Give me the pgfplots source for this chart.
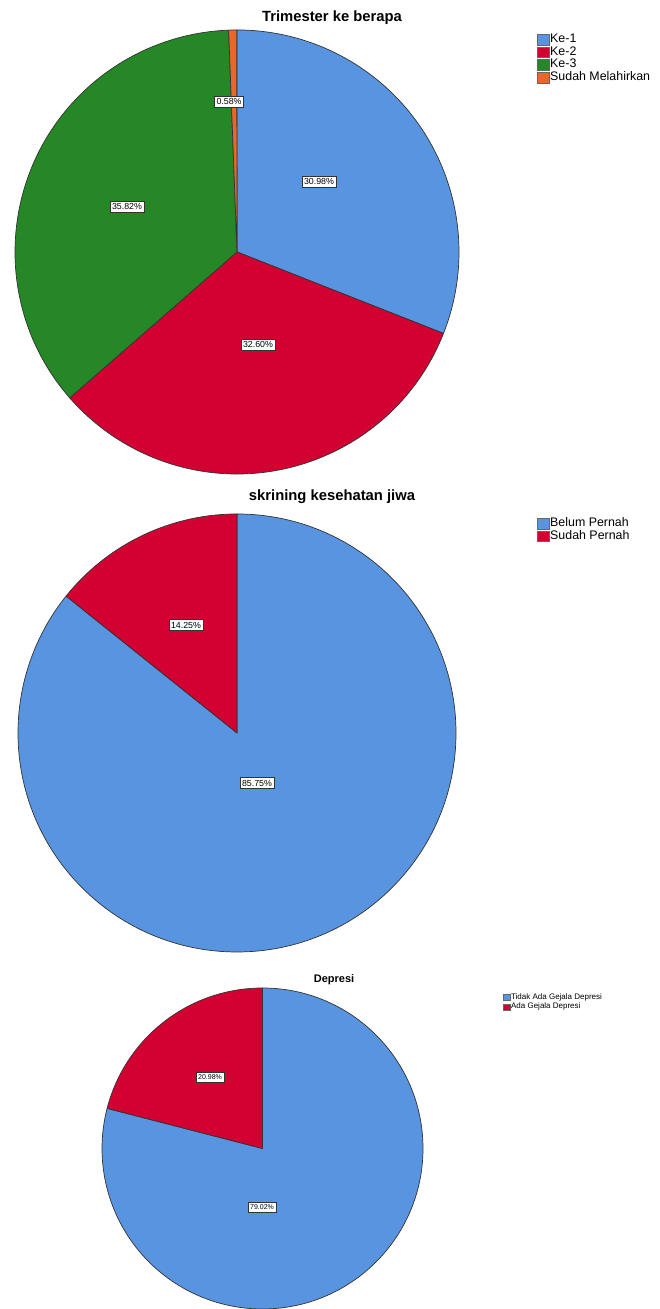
\documentclass[border=0pt]{standalone}
\usepackage{pgfplots}
\pgfplotsset{compat=1.18}
\usepackage{pgfplotstable}
\usepackage{fontspec}
\setmainfont{Liberation Sans}
\definecolor{spblue}{RGB}{88,148,224}
\definecolor{spred}{RGB}{211,0,50}
\definecolor{spgreen}{RGB}{38,135,38}
\definecolor{sporange}{RGB}{232,104,44}

% pct = percentage, col = slice colour, lx/ly = label position (picture units)
\pgfplotstableread{
pct   col      lx  ly
30.98 spblue   319 1127
32.60 spred    258 964
35.82 spgreen  127 1102
0.58  sporange 229 1207
}\trimester
\pgfplotstableread{
pct   col    lx  ly
85.75 spblue 257 526
14.25 spred  186 684
}\skrining
\pgfplotstableread{
pct   col    lx  ly
79.02 spblue 262 102
20.98 spred  210 232
}\depresi

\newcount\pieI
\newcount\pieN
% #1 macro to define, #2 table, #3 cx, #4 cy, #5 radius, #6 label font
\newcommand\buildpie[6]{%
  \pgfplotstablegetrowsof{#2}\pieN=\pgfplotsretval\relax
  \def\piecum{0}\def\pieS{}\def\pieL{}\pieI=0
  \def\pieStep{%
    \pgfplotstablegetelem{\the\pieI}{pct}\of#2\let\piepct\pgfplotsretval
    \pgfplotstablegetelem{\the\pieI}{col}\of#2\let\piecol\pgfplotsretval
    \pgfplotstablegetelem{\the\pieI}{lx}\of#2\let\pielx\pgfplotsretval
    \pgfplotstablegetelem{\the\pieI}{ly}\of#2\let\piely\pgfplotsretval
    \pgfmathsetmacro\piesa{90-3.6*\piecum}%
    \pgfmathsetmacro\piecum{\piecum+\piepct}%
    \pgfmathsetmacro\pieea{90-3.6*\piecum}%
    \pgfmathsetmacro\piesx{#3+#5*cos(\piesa)}%
    \pgfmathsetmacro\piesy{#4+#5*sin(\piesa)}%
    \edef\pieS{\unexpanded\expandafter{\pieS}\noexpand\filldraw[fill=\piecol,draw=black!80,line width=0.35pt,line join=round]
      (axis cs:#3,#4) -- (axis cs:\piesx,\piesy) arc[start angle=\piesa,end angle=\pieea,radius=#5*0.5pt] -- cycle;}%
    \edef\pieL{\unexpanded\expandafter{\pieL}\noexpand\node[fill=white,draw=black!80,line width=0.3pt,inner xsep=1.1pt,inner ysep=1.2pt,font=\unexpanded{#6}]
      at (axis cs:\pielx,\piely) {\piepct\noexpand\%};}%
  }%
  \def\pieiter{\ifnum\pieI<\pieN \pieStep\advance\pieI by 1 \expandafter\pieiter\fi}%
  \pieiter
  \edef#1{\unexpanded\expandafter{\pieS}\unexpanded\expandafter{\pieL}}%
}
\buildpie{\trimcmds}{\trimester}{237}{1057}{222}{\fontsize{4.4}{5}\selectfont}
\buildpie{\skrcmds}{\skrining}{237}{576}{219}{\fontsize{4.4}{5}\selectfont}
\buildpie{\depcmds}{\depresi}{262.5}{160.5}{160.5}{\fontsize{3.5}{4}\selectfont}

\pgfplotsset{
  piebase/.style={
    at={(0,0)}, anchor=origin,
    x=0.5pt, y=0.5pt,
    xmin=0, xmax=659, ymin=0, ymax=1309,
    hide axis, clip=false,
    legend cell align=left,
  },
}

\begin{document}
\begin{tikzpicture}
% ---------------- Trimester ke berapa ----------------
\begin{axis}[piebase,
  legend image code/.code={\draw[#1,draw=black!60,line width=0.3pt] (0pt,-2.7pt) rectangle (5.8pt,2.7pt);},
  legend style={at={(axis cs:537,1276)}, anchor=north west, draw=none, fill=none,
    font=\fontsize{6.2}{7}\selectfont, inner sep=0pt,
    nodes={inner sep=0.3pt, text height=4.4pt, text depth=1.3pt},
    /tikz/every even column/.append style={column sep=2.2pt}},
]
\trimcmds
\node[font=\bfseries\fontsize{7.4}{9}\selectfont] at (axis cs:332,1291) {Trimester ke berapa};
\addlegendimage{fill=spblue}\addlegendentry{Ke-1}
\addlegendimage{fill=spred}\addlegendentry{Ke-2}
\addlegendimage{fill=spgreen}\addlegendentry{Ke-3}
\addlegendimage{fill=sporange}\addlegendentry{Sudah Melahirkan}
\end{axis}
% ---------------- skrining kesehatan jiwa ----------------
\begin{axis}[piebase,
  legend image code/.code={\draw[#1,draw=black!60,line width=0.3pt] (0pt,-2.7pt) rectangle (5.8pt,2.7pt);},
  legend style={at={(axis cs:537,792)}, anchor=north west, draw=none, fill=none,
    font=\fontsize{6.2}{7}\selectfont, inner sep=0pt,
    nodes={inner sep=0.3pt, text height=4.4pt, text depth=1.3pt},
    /tikz/every even column/.append style={column sep=2.2pt}},
]
\skrcmds
\node[font=\bfseries\fontsize{7.4}{9}\selectfont] at (axis cs:332,812) {skrining kesehatan jiwa};
\addlegendimage{fill=spblue}\addlegendentry{Belum Pernah}
\addlegendimage{fill=spred}\addlegendentry{Sudah Pernah}
\end{axis}
% ---------------- Depresi ----------------
\begin{axis}[piebase,
  legend image code/.code={\draw[#1,draw=black!60,line width=0.25pt] (0pt,-1.6pt) rectangle (3.2pt,1.6pt);},
  legend style={at={(axis cs:503,317)}, anchor=north west, draw=none, fill=none,
    font=\fontsize{4}{5}\selectfont, inner sep=0pt,
    nodes={inner sep=0.4pt, text height=3pt, text depth=1.1pt},
    /tikz/every even column/.append style={column sep=0.6pt}},
]
\depcmds
\node[font=\bfseries\fontsize{5.5}{6.5}\selectfont] at (axis cs:334,329) {Depresi};
\addlegendimage{fill=spblue}\addlegendentry{Tidak Ada Gejala Depresi}
\addlegendimage{fill=spred}\addlegendentry{Ada Gejala Depresi}
\end{axis}
\pgfresetboundingbox
\path[use as bounding box] (0,0) rectangle (329.5pt,654.5pt);
\end{tikzpicture}
\end{document}
